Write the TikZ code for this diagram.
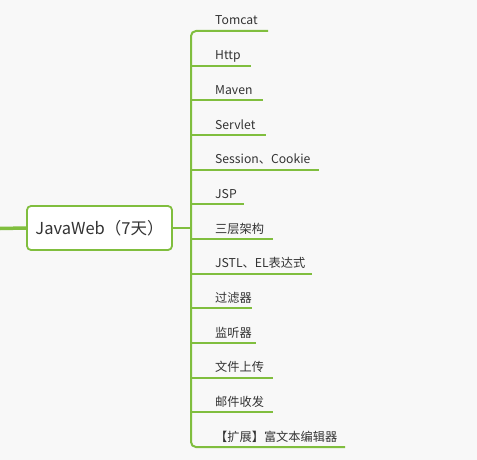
\documentclass[tikz,border=0pt]{standalone}
\usepackage{fontspec}
\setmainfont{Noto Sans CJK SC}
\definecolor{branchgreen}{RGB}{128,190,62}
\definecolor{textgray}{RGB}{51,51,51}
\definecolor{paper}{RGB}{248,248,248}
\tikzset{
  root/.style={draw=branchgreen, line width=1.8pt, rounded corners=4pt, fill=white,
    minimum width=145pt, minimum height=44pt, text=textgray,
    font=\fontsize{16.5}{19}\selectfont},
  leaf/.style={anchor=base west, inner sep=0pt, text=textgray,
    font=\fontsize{12.2}{14}\selectfont},
  branch/.style={branchgreen, line width=2pt},
}
\begin{document}
\begin{tikzpicture}[x=1pt, y=-1pt]
      \useasboundingbox[fill=paper] (0,0) rectangle (477,460);

      \node[root] (root) at (99.5,228) {JavaWeb（7天）};
      \coordinate (in) at (0,228.5);
      \coordinate (hub) at (191,228);
      \draw[branchgreen, line width=3.5pt] (in) -- (root.west);
      \draw[branch] (root.east) -- (hub);

      % topics
      \foreach \i/\txt/\len in {1/Tomcat/268, 2/Http/251, 3/Maven/263,
        4/Servlet/266, 5/Session、Cookie/319, 6/JSP/244, 7/三层架构/273,
        8/JSTL、EL表达式/312, 9/过滤器/252, 10/监听器/256, 11/文件上传/273,
        12/邮件收发/273, 13/【扩展】富文本编辑器/345} {
        \coordinate (s\i) at (191, 31+34.67*\i-34.67);
        \coordinate (e\i) at (\len, 31+34.67*\i-34.67);
        \node[leaf] (t\i) at (215, 25+34.67*\i-34.67) {\txt};
      }
      \draw[branch, rounded corners=5pt] (e1) -- (s1) -- (s13) -- (e13);
      \foreach \i in {2,...,12}
        \draw[branch] (s\i) -- (e\i);
\end{tikzpicture}
\end{document}
